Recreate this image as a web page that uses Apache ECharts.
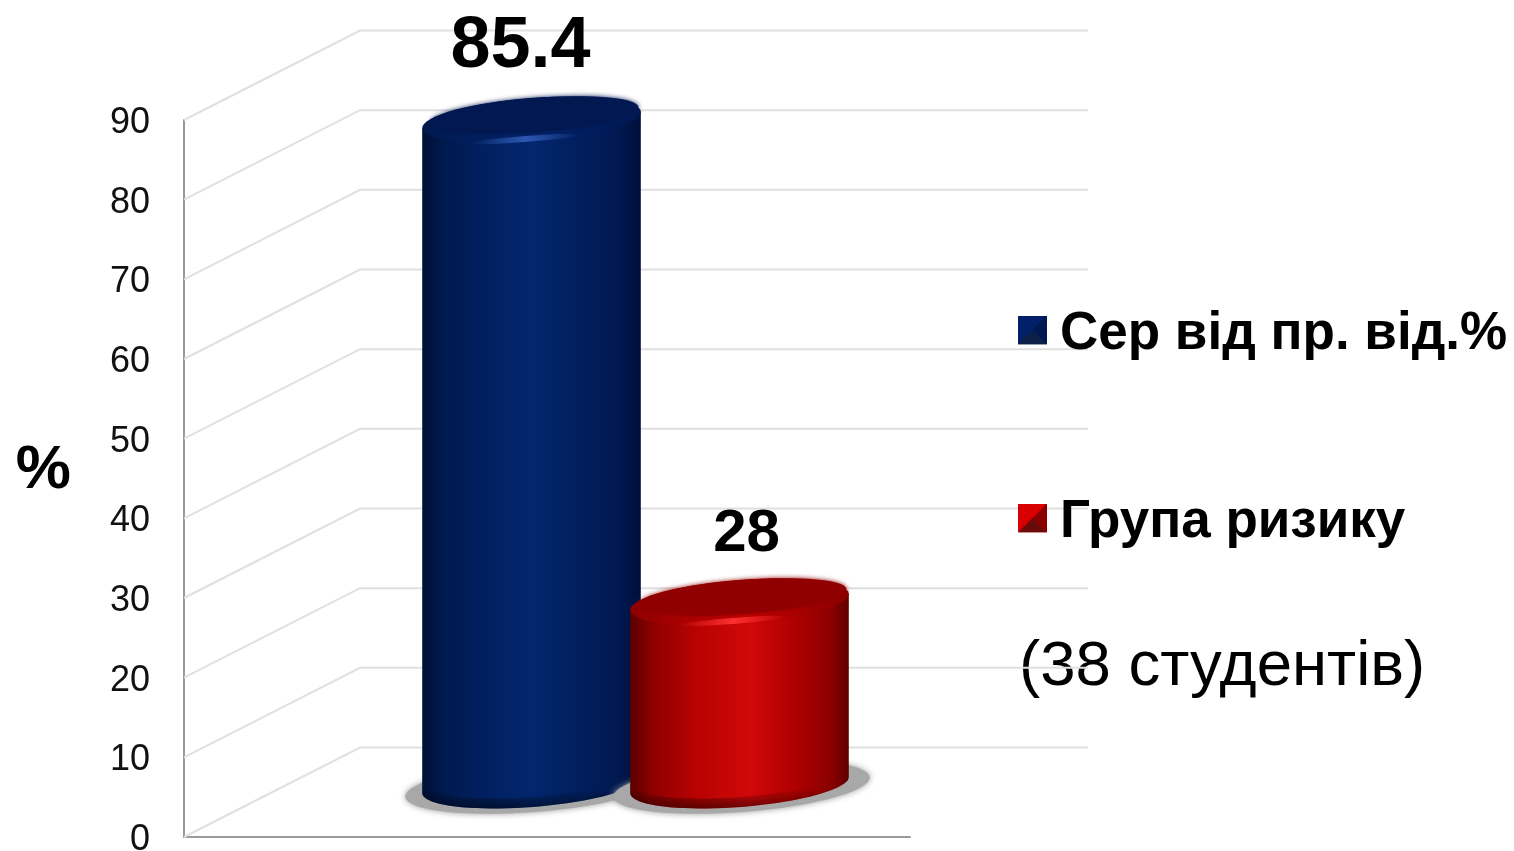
<!DOCTYPE html>
<html>
<head>
<meta charset="utf-8">
<style>
html, body { margin: 0; padding: 0; background: #fff; }
#chart { width: 1514px; height: 851px; }
</style>
<script src="https://cdn.jsdelivr.net/npm/echarts@6/dist/echarts.min.js"></script>
</head>
<body>
<div id="chart"></div>
<script>
var categories = ['Сер від пр. від.%', 'Група ризику'];
var blueValues = [85.4];
var redValues = [28];
var yTicks = [0, 10, 20, 30, 40, 50, 60, 70, 80, 90];
var noteText = '(38 студентів)';

var FONT = '"Liberation Sans", Arial, sans-serif';
var TILT = -4.4 * Math.PI / 180;

// точки эллипса с наклоном
function ellipsePts(cx, cy, rx, ry, a0, a1, n) {
    var pts = [];
    for (var i = 0; i <= n; i++) {
        var a = a0 + (a1 - a0) * i / n;
        pts.push([
            cx + rx * Math.cos(a) * Math.cos(TILT) - ry * Math.sin(a) * Math.sin(TILT),
            cy + rx * Math.cos(a) * Math.sin(TILT) + ry * Math.sin(a) * Math.cos(TILT)
        ]);
    }
    return pts;
}

function hGrad(stops) {
    return {
        type: 'linear', x: 0, y: 0, x2: 1, y2: 0,
        colorStops: stops.map(function (s) { return { offset: s[0], color: s[1] }; })
    };
}

var blueStyle = {
    body: [[0, '#000f38'], [0.1, '#001a4e'], [0.3, '#012062'], [0.5, '#03266e'], [0.72, '#011f5e'], [0.9, '#001850'], [1, '#000f3a']],
    cap: '#011850', rim: '#02216a', glow: 'rgba(50,95,185,0.9)', glowEnd: 'rgba(50,95,185,0)',
    labelSize: 72, labelDx: -11, labelDy: -73
};
var redStyle = {
    body: [[0, '#5a0000'], [0.1, '#8e0000'], [0.3, '#b80202'], [0.55, '#d00808'], [0.75, '#b00000'], [0.92, '#8a0000'], [1, '#600000']],
    cap: '#900000', rim: '#c80000', glow: 'rgba(255,50,50,0.95)', glowEnd: 'rgba(255,50,50,0)',
    labelSize: 60, labelDx: 7, labelDy: -67
};

function cylinderItem(style) {
    return function (params, api) {
        var top = api.coord([api.value(0), api.value(1)]);
        var zero = api.coord([api.value(0), 0]);
        var band = api.size([1, 0])[0];
        var rx = band * 0.527;
        var ry = 22;
        var cx = top[0];
        var baseY = zero[1] - 52;
        var bottomArc = ellipsePts(cx, baseY, rx, ry, 0, Math.PI, 40);
        var topRight = ellipsePts(cx, top[1], rx, ry, 0, 0, 1)[0];
        var topLeft = ellipsePts(cx, top[1], rx, ry, Math.PI, Math.PI, 1)[0];
        var bodyPts = [topRight].concat(bottomArc).concat([topLeft]);
        var children = [];
        // тень на полу
        children.push({
            type: 'polygon',
            shape: { points: ellipsePts(cx + 2, baseY + 2, rx + 19, ry + 3, 0, Math.PI * 2, 60) },
            style: { fill: '#a8a8a8', shadowBlur: 6, shadowColor: '#999' }
        });
        children.push({ type: 'polygon', shape: { points: bodyPts }, style: { fill: hGrad(style.body) } });
        // затемнение низа
        var lowPts = ellipsePts(cx, baseY - 10, rx, ry, Math.PI, 0, 40).concat(bottomArc);
        children.push({
            type: 'polygon',
            shape: { points: lowPts },
            style: {
                fill: {
                    type: 'linear', x: 0, y: 0, x2: 0, y2: 1,
                    colorStops: [
                        { offset: 0, color: 'rgba(0,0,0,0)' },
                        { offset: 0.55, color: 'rgba(0,0,0,0.02)' },
                        { offset: 1, color: 'rgba(0,0,0,0.5)' }
                    ]
                }
            }
        });
        // верхняя крышка
        children.push({ type: 'polygon', shape: { points: ellipsePts(cx, top[1], rx, ry, 0, Math.PI * 2, 60) }, style: { fill: hGrad([[0, style.body[1][1]], [0.5, style.rim], [1, style.body[5][1]]]) } });
        children.push({
            type: 'polygon',
            shape: { points: ellipsePts(cx - 6, top[1] + 19, rx * 0.5, 3, 0, Math.PI * 2, 40) },
            style: {
                fill: hGrad([[0, style.glowEnd], [0.5, style.glow], [1, style.glowEnd]]),
                shadowBlur: 4,
                shadowColor: style.glowEnd
            }
        });
        children.push({
            type: 'polygon',
            shape: { points: ellipsePts(cx + 3, top[1] - 5, rx * 0.95, ry - 5, 0, Math.PI * 2, 60) },
            style: { fill: style.cap, shadowBlur: 5, shadowColor: style.cap }
        });
        children.push({
            type: 'text',
            style: {
                text: String(api.value(1)),
                x: cx + style.labelDx,
                y: top[1] + style.labelDy,
                align: 'center',
                verticalAlign: 'middle',
                fontFamily: FONT,
                fontWeight: 'bold',
                fontSize: style.labelSize,
                fill: '#000'
            }
        });
        return { type: 'group', children: children };
    };
}

// линии стенок
function wallItem(params, api) {
    var p = api.coord([0, api.value(0)]);
    var pts = [p, [p[0] + 176, p[1] - 89.5], [p[0] + 904, p[1] - 89.5]];
    return {
        type: 'polyline',
        shape: { points: pts },
        style: { stroke: '#e0e0e0', lineWidth: 2, fill: null }
    };
}

function legendIcon(a, b, c) {
    var svg = '<svg xmlns="http://www.w3.org/2000/svg" width="29" height="29" viewBox="0 0 29 29">' +
        '<rect width="29" height="29" fill="' + a + '"/>' +
        '<polygon points="29,0 29,29 14.5,14.5" fill="' + b + '"/>' +
        '<polygon points="0,29 29,29 14.5,14.5" fill="' + c + '"/></svg>';
    return 'image://data:image/svg+xml;charset=utf-8,' + encodeURIComponent(svg);
}

var myChart = echarts.init(document.getElementById('chart'));
myChart.setOption({
    animation: false,
    backgroundColor: '#fff',
    grid: [
        { left: 184, width: 726, top: 120, height: 717, outerBoundsMode: 'none' },
        { left: 427.5, width: 416, top: 120, height: 717, outerBoundsMode: 'none' }
    ],
    xAxis: [
        { gridIndex: 0, type: 'value', min: 0, max: 1, splitLine: { show: false }, axisTick: { show: false }, axisLabel: { show: false }, axisLine: { show: true, onZero: false, lineStyle: { color: '#999', width: 2 } } },
        { gridIndex: 1, type: 'category', data: categories, show: false }
    ],
    yAxis: [
        {
            gridIndex: 0, type: 'value', min: 0, max: 90, interval: 10,
            name: '%', nameLocation: 'middle', nameRotate: 0, nameGap: 113,
            nameTextStyle: { fontFamily: FONT, fontWeight: 'bold', fontSize: 62, color: '#000', verticalAlign: 'top', padding: [-39, 0, 0, 0] },
            splitLine: { show: false }, axisTick: { show: false },
            axisLine: { show: true, lineStyle: { color: '#999', width: 2 } },
            axisLabel: { margin: 34, fontFamily: FONT, fontSize: 36, color: '#111', verticalAlign: 'top', padding: [-15, 0, 0, 0], showMinLabel: true, showMaxLabel: true }
        },
        { gridIndex: 1, type: 'value', min: 0, max: blueValues[0], show: false, splitLine: { show: false } }
    ],
    legend: {
        orient: 'vertical',
        left: 1018,
        top: 308,
        itemWidth: 29,
        itemHeight: 29,
        itemGap: 135,
        padding: 0,
        formatter: '{t|{name}}',
        textStyle: {
            fontFamily: FONT, fontWeight: 'bold', fontSize: 53, color: '#000', padding: [0, 0, 0, 8],
            rich: { t: { fontFamily: FONT, fontWeight: 'bold', fontSize: 53, color: '#000', verticalAlign: 'top', padding: [9, 0, 0, 0] } }
        },
        data: [
            { name: categories[0], icon: legendIcon('#02206a', '#001750', '#0c2046') },
            { name: categories[1], icon: legendIcon('#d80000', '#8a0000', '#6a0a0a') }
        ]
    },
    graphic: [{
        type: 'text',
        left: 1019,
        top: 635,
        style: { text: noteText, fontFamily: FONT, fontSize: 63.5, fill: '#000' }
    }],
    series: [
        {
            type: 'custom', name: 'walls', xAxisIndex: 0, yAxisIndex: 0, silent: true, z: 1,
            renderItem: wallItem, encode: { y: 0 }, data: yTicks
        },
        {
            type: 'custom', name: categories[0], xAxisIndex: 1, yAxisIndex: 1, z: 3, itemStyle: { color: '#02206a' },
            renderItem: cylinderItem(blueStyle), encode: { x: 0, y: 1 }, data: [[0, blueValues[0]]]
        },
        {
            type: 'custom', name: categories[1], xAxisIndex: 1, yAxisIndex: 1, z: 4, itemStyle: { color: '#c40000' },
            renderItem: cylinderItem(redStyle), encode: { x: 0, y: 1 }, data: [[1, redValues[0]]]
        }
    ]
}, true);
</script>
</body>
</html>
